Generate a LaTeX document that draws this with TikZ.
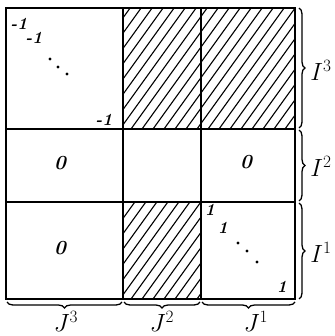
\documentclass[tikz,border=0pt]{standalone}
\usetikzlibrary{decorations.pathreplacing}
\begin{document}
\begin{tikzpicture}[x=1pt,y=-1pt,
  grid/.style={line width=2.8pt},
  hatch/.style={line width=1.1pt},
  br/.style={decorate,decoration={brace,amplitude=6pt},line width=1.3pt},
  ent/.style={font=\fontsize{17}{20}\selectfont\bfseries\itshape,inner sep=0pt},
  zer/.style={font=\fontsize{20}{24}\selectfont\bfseries\itshape,inner sep=0pt},
  lab/.style={font=\fontsize{23}{28}\selectfont,inner sep=0pt},
  dot/.style={circle,fill,inner sep=0pt,minimum size=3.4pt}]
\useasboundingbox (0,0) rectangle (334,336);
% hatched blocks
\foreach \xa/\ya/\xb/\yb in {123/8/201/129, 201/8/295/129, 123/202/201/299}{
  \begin{scope}
    \clip (\xa,\ya) rectangle (\xb,\yb);
    \foreach \c in {-100,-89,...,300}{
      \draw[hatch] (\c,\yb) -- ++(0.72*140,-140);
    }
  \end{scope}
}
% grid
\draw[grid] (6,8) rectangle (295,299);
\draw[grid] (123,8) -- (123,299);
\draw[grid] (201,8) -- (201,299);
\draw[grid] (6,129) -- (295,129);
\draw[grid] (6,202) -- (295,202);
% entries
\node[ent] (m1) at (19,24) {-1};
\node[ent] (m2) at (34,38) {-1};
\node[dot] (d1) at (50,59) {};
\node[dot] (d2) at (58,67) {};
\node[dot] (d3) at (67,74) {};
\node[ent] (m3) at (104,120) {-1};
\node[zer] (z1) at (60,163) {0};
\node[zer] (z2) at (246,162) {0};
\node[zer] (z3) at (60,248) {0};
\node[ent] (o1) at (210,210) {1};
\node[ent] (o2) at (223,228) {1};
\node[dot] (e1) at (238,243) {};
\node[dot] (e2) at (247,251) {};
\node[dot] (e3) at (257,262) {};
\node[ent] (o3) at (282,287) {1};
% right braces
\coordinate (r0) at (299,8);
\coordinate (r1) at (299,128);
\coordinate (r2) at (299,130);
\coordinate (r3) at (299,201);
\coordinate (r4) at (299,203);
\coordinate (r5) at (299,299);
\draw[br] (r0) -- (r1);
\draw[br] (r2) -- (r3);
\draw[br] (r4) -- (r5);
\node[lab] (I3) at (321,70) {$I^3$};
\node[lab] (I2) at (321,166) {$I^2$};
\node[lab] (I1) at (321,252) {$I^1$};
% bottom braces
\coordinate (b0) at (122,302);
\coordinate (b1) at (7,302);
\coordinate (b2) at (200,302);
\coordinate (b3) at (124,302);
\coordinate (b4) at (295,302);
\coordinate (b5) at (202,302);
\draw[br] (b0) -- (b1);
\draw[br] (b2) -- (b3);
\draw[br] (b4) -- (b5);
\node[lab] (J3) at (66,321) {$J^3$};
\node[lab] (J2) at (162,321) {$J^2$};
\node[lab] (J1) at (256,321) {$J^1$};
\end{tikzpicture}
\end{document}
